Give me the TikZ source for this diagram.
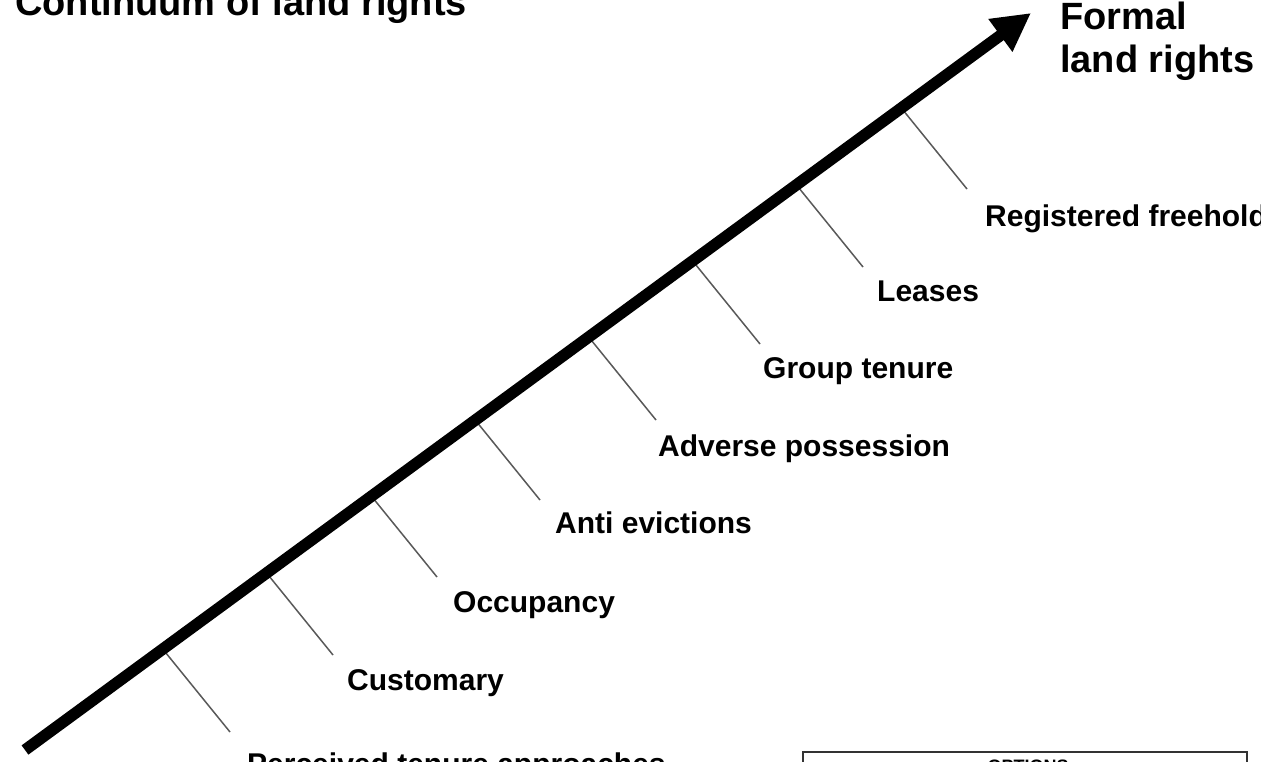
\documentclass[tikz,border=0pt]{standalone}
\usepackage{fontspec}
\setmainfont{Liberation Sans}
\usetikzlibrary{arrows.meta}
\tikzset{
  lbl/.style={anchor=base west, inner sep=0pt, font=\bfseries\fontsize{30}{36}\selectfont},
  big/.style={anchor=base west, inner sep=0pt, font=\bfseries\fontsize{38}{44}\selectfont},
  tick/.style={draw=black!65, line width=1.5pt},
  mainarrow/.style={line width=11.5pt, -{Triangle[length=38pt,width=38pt]}},
}
\begin{document}
\begin{tikzpicture}[x=1pt,y=-1pt]
\useasboundingbox (0,0) rectangle (1261,761);
\clip (0,0) rectangle (1261,761);
\fill[white] (0,0) rectangle (1261,761);
% tick coordinates
\coordinate (s1) at (162.7,649.0); \coordinate (e1) at (230,732);
\coordinate (s2) at (266.5,572.9); \coordinate (e2) at (333,655);
\coordinate (s3) at (371.3,496.0); \coordinate (e3) at (437,577);
\coordinate (s4) at (475.1,419.9); \coordinate (e4) at (540,500);
\coordinate (s5) at (588.5,336.8); \coordinate (e5) at (656,420);
\coordinate (s6) at (692.4,260.6); \coordinate (e6) at (760,344);
\coordinate (s7) at (796.1,184.5); \coordinate (e7) at (863,267);
\coordinate (s8) at (901.0,107.6); \coordinate (e8) at (967,189);
\foreach \i in {1,...,8} \draw[tick] (s\i) -- (e\i);
% main arrow
\coordinate (start) at (25,750);
\coordinate (tip) at (1031,13);
\draw[mainarrow] (start) -- (tip);
% labels
\node[big] (title) at (15,15) {Continuum of land rights};
\node[big] (formal1) at (1060,29) {Formal};
\node[big] (formal2) at (1060,72) {land rights};
\node[lbl] (l1) at (247,774) {Perceived tenure approaches};
\node[lbl] (l2) at (347,690) {Customary};
\node[lbl] (l3) at (453,612) {Occupancy};
\node[lbl] (l4) at (555,533) {Anti evictions};
\node[lbl] (l5) at (658,456) {Adverse possession};
\node[lbl] (l6) at (763,378) {Group tenure};
\node[lbl] (l7) at (877,301) {Leases};
\node[lbl] (l8) at (985,226) {Registered freehold};
% options box
\draw[draw=black!80, line width=1.5pt] (803,752) rectangle (1247,820);
\node[anchor=base, inner sep=0pt, font=\bfseries\fontsize{18}{20}\selectfont] (opt) at (1028,772) {OPTIONS};
\end{tikzpicture}
\end{document}
